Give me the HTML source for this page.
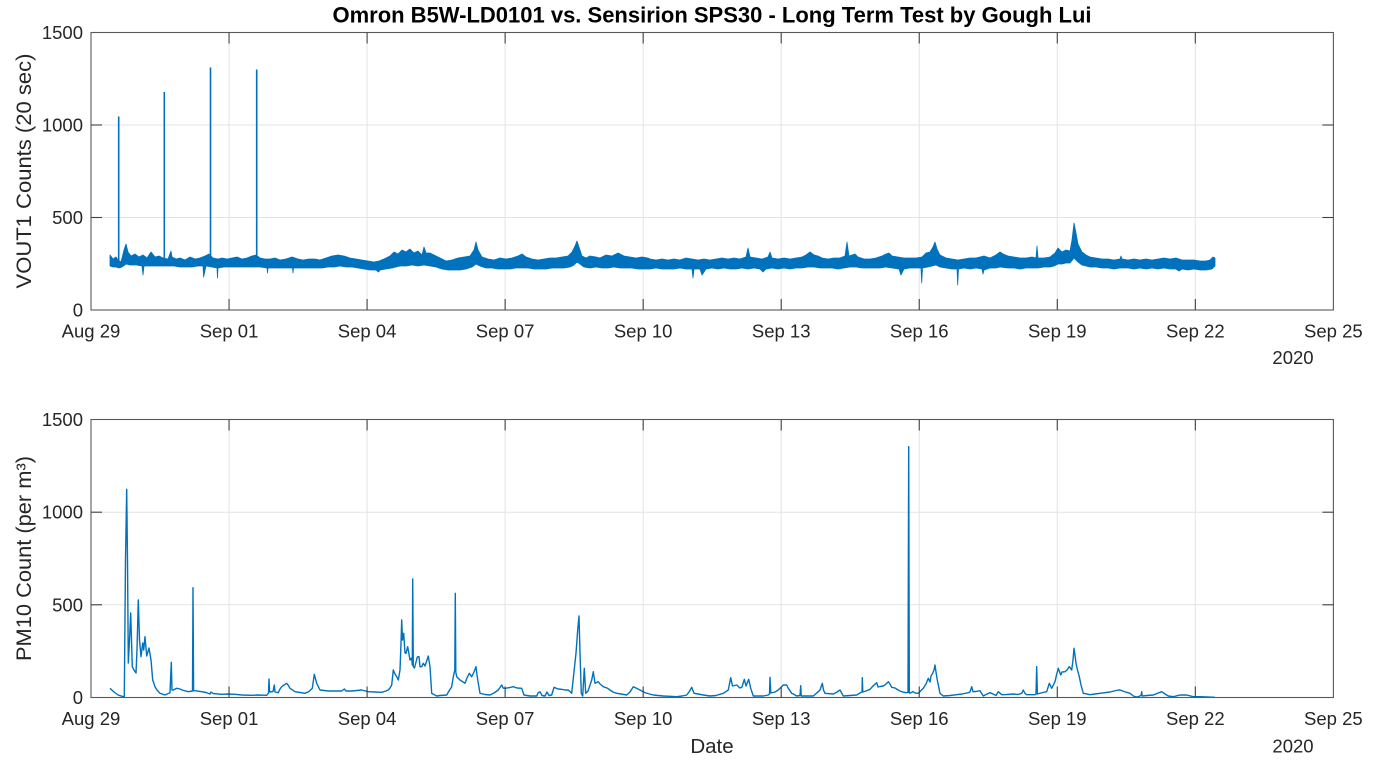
<!DOCTYPE html>
<html>
<head>
<meta charset="utf-8">
<style>
html,body{margin:0;padding:0;background:#fff;}
svg{display:block;}
text{font-family:"Liberation Sans",Arial,sans-serif;fill:#262626;}
</style>
</head>
<body>
<svg width="1377" height="771" viewBox="0 0 1377 771" xmlns="http://www.w3.org/2000/svg">
<rect x="0" y="0" width="1377" height="771" fill="#fff"/>

<!-- ============ TOP AXES ============ -->
<g>
  <rect x="91" y="32.5" width="1242.4" height="277.5" fill="#fff"/>
  <!-- grid -->
  <g stroke="#e3e3e3" stroke-width="1">
    <line x1="229.04" y1="32.5" x2="229.04" y2="310"/>
    <line x1="367.08" y1="32.5" x2="367.08" y2="310"/>
    <line x1="505.12" y1="32.5" x2="505.12" y2="310"/>
    <line x1="643.16" y1="32.5" x2="643.16" y2="310"/>
    <line x1="781.2" y1="32.5" x2="781.2" y2="310"/>
    <line x1="919.24" y1="32.5" x2="919.24" y2="310"/>
    <line x1="1057.28" y1="32.5" x2="1057.28" y2="310"/>
    <line x1="1195.32" y1="32.5" x2="1195.32" y2="310"/>
    <line x1="91" y1="217.5" x2="1333.4" y2="217.5"/>
    <line x1="91" y1="125" x2="1333.4" y2="125"/>
  </g>
  <!-- data band -->
  <path fill="#0072BD" stroke="#0072BD" stroke-width="0.8" stroke-linejoin="round" d="M110,255 L113,259 L116,257 L118,260 L121,262 L124,250 L126,244 L128,252 L131,256 L135,254 L139,257 L143,255 L147,258 L151,252 L155,257 L159,256 L163,258 L168,259 L171,251 L172,257 L176,259 L180,258 L185,260 L190,257 L195,259 L200,258 L205,256 L209,254 L213,258 L218,259 L222,258 L227,259 L232,258 L237,257 L242,259 L247,258 L252,256 L256,255 L260,258 L265,259 L270,259 L275,258 L280,260 L286,259 L292,257 L298,259 L303,260 L309,259 L315,259 L320,260 L326,258 L332,256 L338,255 L344,256 L350,258 L356,259 L362,260 L368,261 L374,262 L379,261 L384,259 L390,256 L394,252 L398,254 L402,250 L406,252 L410,249 L414,253 L418,251 L422,255 L424,247 L426,253 L430,253 L434,255 L440,258 L446,261 L452,260 L458,258 L464,257 L470,256 L474,250 L476,242 L478,250 L482,257 L488,259 L494,260 L500,258 L506,259 L512,258 L518,256 L522,254 L526,257 L532,259 L538,260 L544,259 L550,258 L556,258 L562,257 L568,256 L572,252 L575,246 L577,241 L579,247 L582,256 L586,258 L590,256 L596,257 L600,258 L606,255 L612,256 L618,253 L624,256 L630,257 L636,258 L642,257 L648,258 L650,259 L656,260 L662,259 L668,260 L674,259 L680,260 L686,258 L692,259 L698,260 L704,259 L710,260 L716,259 L722,258 L728,259 L734,258 L740,259 L746,257 L748,248 L750,257 L756,258 L762,259 L768,257 L770,252 L772,258 L778,259 L784,258 L790,259 L796,258 L802,257 L806,255 L810,252 L814,255 L818,256 L822,258 L828,259 L834,258 L840,258 L845,256 L847,242 L849,256 L852,255 L855,254 L858,257 L864,259 L870,259 L876,258 L882,256 L886,254 L889,253 L892,256 L898,257 L904,258 L910,258 L916,258 L922,257 L926,253 L930,252 L933,247 L935,242 L937,249 L940,255 L946,258 L952,259 L958,260 L964,259 L970,258 L976,258 L980,257 L984,256 L990,258 L996,255 L1000,252 L1003,254 L1008,256 L1014,257 L1020,258 L1026,258 L1032,257 L1036,258 L1037,246 L1038,258 L1044,258 L1050,257 L1055,253 L1058,248 L1062,252 L1066,250 L1070,251 L1072,240 L1074,223 L1076,233 L1078,244 L1082,252 L1086,255 L1090,257 L1096,258 L1102,259 L1108,259 L1114,260 L1120,259 L1121,256 L1122,259 L1128,260 L1134,259 L1140,260 L1146,259 L1152,260 L1158,259 L1164,258 L1170,259 L1176,258 L1182,260 L1188,260 L1194,260 L1200,261 L1206,261 L1210,260 L1213,257 L1215,258 L1215,266 L1212,269 L1206,270 L1200,270 L1194,269 L1188,270 L1182,269 L1179,271 L1176,269 L1170,269 L1164,268 L1158,269 L1152,268 L1146,269 L1140,268 L1134,269 L1128,268 L1120,268 L1114,269 L1108,268 L1102,268 L1096,267 L1090,267 L1086,266 L1082,265 L1078,262 L1074,258 L1070,263 L1066,263 L1062,264 L1058,264 L1054,266 L1050,267 L1044,267 L1038,268 L1032,268 L1026,268 L1020,269 L1014,268 L1008,268 L1000,267 L996,268 L990,268 L984,270 L983,274 L982,269 L976,268 L970,269 L964,268 L958.5,269 L957.7,285 L957,269 L952,269 L946,268 L940,267 L936,265 L932,266 L928,267 L922.5,268 L921.7,283 L921,268 L916,268 L910,268 L904,269 L901,275 L899,269 L892,268 L886,267 L880,268 L874,268 L868,268 L862,268 L856,267 L850,267 L844,268 L838,269 L832,268 L826,268 L820,268 L814,267 L808,267 L802,268 L796,268 L790,269 L784,268 L778,269 L772,268 L766,269 L763,272 L760,269 L754,268 L748,269 L742,268 L736,269 L730,269 L724,268 L718,269 L712,268 L706,269 L702,275 L700,269 L694,269 L693,278 L692,269 L686,269 L680,268 L674,269 L668,269 L662,269 L656,268 L650,269 L644,269 L638,269 L632,268 L626,268 L620,268 L614,267 L608,268 L602,268 L596,267 L590,268 L584,267 L580,264 L577,262 L574,265 L570,267 L564,268 L558,268 L552,268 L546,269 L540,269 L534,269 L528,268 L522,268 L516,268 L510,269 L504,269 L498,269 L492,268 L486,268 L480,266 L476,264 L472,267 L466,269 L460,270 L454,270 L448,270 L442,269 L436,267 L430,266 L424,265 L418,266 L412,265 L406,266 L400,266 L396,267 L392,268 L386,269 L380,270 L378.6,272 L376,270 L370,270 L364,269 L358,268 L352,267 L346,267 L340,266 L334,267 L328,267 L322,268 L316,268 L310,268 L304,268 L298,268 L293.5,268 L293,273 L292.5,268 L286,268 L280,268 L274,268 L268,268 L267.5,273 L267,268 L260,267 L254,267 L248,267 L242,267 L236,267 L230,267 L224,267 L218,268 L217.5,278 L217,268 L212,267 L206,266 L203.6,277 L203,266 L198,266 L192,267 L186,267 L180,267 L174,266 L168,266 L162,266 L156,266 L150,266 L144,266 L143,275 L142,266 L136,265 L130,265 L126,264 L122,267 L119,268 L116,267 L113,267 L110,266 Z"/>
  <!-- tall spikes -->
  <g stroke="#0072BD" stroke-width="1.6" fill="none">
    <line x1="118.7" y1="266" x2="118.7" y2="116.5"/>
    <line x1="164.3" y1="264" x2="164.3" y2="92"/>
    <line x1="210.5" y1="264" x2="210.5" y2="67.5"/>
    <line x1="256.7" y1="264" x2="256.7" y2="69.5"/>
  </g>
  <!-- box -->
  <rect x="91" y="32.5" width="1242.4" height="277.5" fill="none" stroke="#595959" stroke-width="1.1"/>
  <!-- ticks -->
  <g stroke="#404040" stroke-width="1.1">
    <line x1="229.04" y1="310" x2="229.04" y2="299"/><line x1="229.04" y1="32.5" x2="229.04" y2="43.5"/>
    <line x1="367.08" y1="310" x2="367.08" y2="299"/><line x1="367.08" y1="32.5" x2="367.08" y2="43.5"/>
    <line x1="505.12" y1="310" x2="505.12" y2="299"/><line x1="505.12" y1="32.5" x2="505.12" y2="43.5"/>
    <line x1="643.16" y1="310" x2="643.16" y2="299"/><line x1="643.16" y1="32.5" x2="643.16" y2="43.5"/>
    <line x1="781.2" y1="310" x2="781.2" y2="299"/><line x1="781.2" y1="32.5" x2="781.2" y2="43.5"/>
    <line x1="919.24" y1="310" x2="919.24" y2="299"/><line x1="919.24" y1="32.5" x2="919.24" y2="43.5"/>
    <line x1="1057.28" y1="310" x2="1057.28" y2="299"/><line x1="1057.28" y1="32.5" x2="1057.28" y2="43.5"/>
    <line x1="1195.32" y1="310" x2="1195.32" y2="299"/><line x1="1195.32" y1="32.5" x2="1195.32" y2="43.5"/>
    <line x1="91" y1="217.5" x2="102" y2="217.5"/><line x1="1333.4" y1="217.5" x2="1322.4" y2="217.5"/>
    <line x1="91" y1="125" x2="102" y2="125"/><line x1="1333.4" y1="125" x2="1322.4" y2="125"/>
  </g>
  <!-- y tick labels -->
  <g font-size="18.5" text-anchor="end">
    <text x="83" y="39">1500</text>
    <text x="83" y="131.5">1000</text>
    <text x="83" y="224">500</text>
    <text x="83" y="316.5">0</text>
  </g>
  <!-- x tick labels -->
  <g font-size="18.5" text-anchor="middle">
    <text x="91" y="337.5">Aug 29</text>
    <text x="229.04" y="337.5">Sep 01</text>
    <text x="367.08" y="337.5">Sep 04</text>
    <text x="505.12" y="337.5">Sep 07</text>
    <text x="643.16" y="337.5">Sep 10</text>
    <text x="781.2" y="337.5">Sep 13</text>
    <text x="919.24" y="337.5">Sep 16</text>
    <text x="1057.28" y="337.5">Sep 19</text>
    <text x="1195.32" y="337.5">Sep 22</text>
    <text x="1333.36" y="337.5">Sep 25</text>
    <text x="1293" y="364">2020</text>
  </g>
  <text transform="translate(31,171) rotate(-90)" font-size="21" text-anchor="middle" textLength="235" lengthAdjust="spacingAndGlyphs">VOUT1 Counts (20 sec)</text>
  <text x="712" y="22.7" font-size="22" font-weight="bold" text-anchor="middle" style="fill:#000">Omron B5W-LD0101 vs. Sensirion SPS30 - Long Term Test by Gough Lui</text>
</g>

<!-- ============ BOTTOM AXES ============ -->
<g>
  <g stroke="#e3e3e3" stroke-width="1">
    <line x1="229.04" y1="419.5" x2="229.04" y2="697.5"/>
    <line x1="367.08" y1="419.5" x2="367.08" y2="697.5"/>
    <line x1="505.12" y1="419.5" x2="505.12" y2="697.5"/>
    <line x1="643.16" y1="419.5" x2="643.16" y2="697.5"/>
    <line x1="781.2" y1="419.5" x2="781.2" y2="697.5"/>
    <line x1="919.24" y1="419.5" x2="919.24" y2="697.5"/>
    <line x1="1057.28" y1="419.5" x2="1057.28" y2="697.5"/>
    <line x1="1195.32" y1="419.5" x2="1195.32" y2="697.5"/>
    <line x1="91" y1="604.8" x2="1333.4" y2="604.8"/>
    <line x1="91" y1="512.2" x2="1333.4" y2="512.2"/>
  </g>
  <polyline fill="none" stroke="#0072BD" stroke-width="1.4" stroke-linejoin="round" points="110,688.3 114,692 118,695 123.3,696.7 124.3,696.5 125.5,560 126.7,489.3 127.5,560 128.3,663 129.5,640 130.7,613 131.5,640 132.3,666.7 134,670 136,673 137,650 138.3,600 139.5,640 141,656.7 142.7,643 143.7,650 145,636.7 146.7,656 149,648 151,660 152.7,680 155,686.7 157,690 160,693.3 165,695 170,692.7 171.3,662.3 172,690 173.3,690 176.7,688.3 180,689 182,690 188.3,691.7 192.5,691 193,587.7 193.6,690.7 195,690.7 201.7,691.7 206,692.5 210,694 211,692 213,693.5 221.7,694.3 228,694 235,694.3 242,695 251.7,695.3 258,695 266.7,695.3 268.5,693 269,679 269.6,692 271.7,691.7 273,691.5 274.3,685 275,692 278.3,692.7 280,689 281.7,686.7 284,685 286.7,683.3 288,685 290,688.3 295,691.7 300,692.5 305,693.3 309,691.5 312.3,688.3 314.3,674.3 316.7,683.3 320,690 328.3,691 335,691 341.7,691 344.3,689 346,691 352,691 361.7,690 368.3,691.7 375,692 381.7,692.3 386,691 388.3,690 390,688 391.7,685 393.3,670 395,674 396.7,676.7 398.3,680 400,670 401,643.3 401.7,620 402.5,640 403.7,633.3 405,653 406,653.3 407.7,646.7 408.3,650 410,660 411.7,658 412.3,665 412.7,579 413.3,666.7 414.5,668 417.3,657 419,656.7 420,666.7 421.7,666.7 423.3,663.3 425,666 428.3,656 430,666.7 431.7,693.3 436.7,696 440,695.5 446.7,695 449,691 451.7,686.7 453.3,676.7 454.8,670 455.3,593.3 455.8,672 456.7,676.7 460,680 465,683.3 467,678 469.3,673.3 471.7,676.7 474,672 476,666.7 477,675 478.3,683.3 480,693.3 485,694.5 490,695 494,693 498.3,690 501.7,685 503,688 505,688.3 510,687.5 513.3,686.7 517,688 521.7,688.3 524,695 530,696 536.7,696 538,693 540,691.7 542,695.5 545,696 547,692 549,695.5 551.7,695 554,687.3 558,689 561.7,689.3 565,690 568.3,690 571.7,693.3 574,671.7 576,653.3 577.7,630 579,616 580,653.3 581.3,693.3 582.7,696 584.3,668.3 585.7,693.3 588,691 591.7,680 593.3,671.7 595,683.3 598.3,681.7 600,684 603.3,686.7 607,688 610,690 613,692 616.7,693.3 621,694 626.7,695 630,692 633.3,686.7 636,688 640,690 643,691.7 646,693 653.3,695 658,695.5 663.3,696 670,696.3 676.7,696.7 682,696 686.7,695 689,692 691.7,687.3 694,693.3 698,694 703.3,695 710,696 716,695.5 723.3,693.3 728.3,690 730.7,677.7 732.5,686 736.7,685 740,688 742,687 744.3,679.3 746,686 748.7,679.3 750.7,688.3 753.3,696 758,696 763.3,696 768.3,695 769.5,694 770,677.3 770.8,693 775,692 778.3,690 783.3,685 786.7,685 788.3,688.3 791.7,693.3 793.3,694 796.7,696 800,695.5 800.7,685.7 801.3,696 807,696 813.3,696 818.3,691.7 820,690 822.3,683.3 823.5,690 825,693.3 833.3,694 837,692 840,690 843.3,696 850,695.5 856.7,695 860,693 862,692 862.3,677.7 862.8,692 866,691 870,689.3 873,686 876.7,682.7 878,687 880,686.5 883.3,686 886,684 888.3,681.7 890,684 891.7,687.3 895,688 898,690 901.7,691.7 906,692.7 908,692.5 908.7,446.7 909.3,692.5 910,693.3 913,691.5 915,693 918.3,693.3 923.3,688.3 926,684 928.3,678.3 930,682 931,676 932.7,673.3 934,670 935,665 936,672 937.3,680 940,693.3 943.3,696 950,695.5 956.7,694.7 962,694 968.3,692.7 970,692 971.7,686.7 973,691.7 976,691.5 980,690.7 983.3,696 986,694.5 990,692.7 993,694 996,695.5 998.3,691.7 1001.7,694.7 1007,694.5 1013.3,694 1018,694.5 1021.7,693.3 1023.3,690 1025,693.5 1026.7,694.7 1030,694.7 1035,694.7 1036,694 1036.7,666.7 1037.4,694 1041,693 1046.7,691.7 1049.3,683.3 1051.7,688.3 1055,681.7 1056.5,675 1058.3,668.3 1060.7,675 1062,672 1065,671.7 1067,670 1069.3,666.7 1071.7,670 1073,660 1074,648.3 1075,655 1076,663.3 1077.5,670 1079.3,676.7 1081,685 1083.3,693.3 1086,693.8 1090,694.7 1095,694 1100,693.3 1105,692.7 1110,692 1114,691 1118.3,690 1120,690 1124,691.5 1130,693.3 1133.3,696 1136.7,697 1140,696 1141.2,695 1141.7,691.7 1142.2,696 1147,695.5 1153.3,695 1157,693.5 1161.7,691.7 1165,694 1168.3,696 1173.3,696.7 1180,695 1186.7,695 1193.3,696.7 1200,696.7 1207,697 1215,697.3"/>
  <rect x="91" y="419.5" width="1242.4" height="278" fill="none" stroke="#595959" stroke-width="1.1"/>
  <g stroke="#404040" stroke-width="1.1">
    <line x1="229.04" y1="697.5" x2="229.04" y2="686.5"/><line x1="229.04" y1="419.5" x2="229.04" y2="430.5"/>
    <line x1="367.08" y1="697.5" x2="367.08" y2="686.5"/><line x1="367.08" y1="419.5" x2="367.08" y2="430.5"/>
    <line x1="505.12" y1="697.5" x2="505.12" y2="686.5"/><line x1="505.12" y1="419.5" x2="505.12" y2="430.5"/>
    <line x1="643.16" y1="697.5" x2="643.16" y2="686.5"/><line x1="643.16" y1="419.5" x2="643.16" y2="430.5"/>
    <line x1="781.2" y1="697.5" x2="781.2" y2="686.5"/><line x1="781.2" y1="419.5" x2="781.2" y2="430.5"/>
    <line x1="919.24" y1="697.5" x2="919.24" y2="686.5"/><line x1="919.24" y1="419.5" x2="919.24" y2="430.5"/>
    <line x1="1057.28" y1="697.5" x2="1057.28" y2="686.5"/><line x1="1057.28" y1="419.5" x2="1057.28" y2="430.5"/>
    <line x1="1195.32" y1="697.5" x2="1195.32" y2="686.5"/><line x1="1195.32" y1="419.5" x2="1195.32" y2="430.5"/>
    <line x1="91" y1="604.8" x2="102" y2="604.8"/><line x1="1333.4" y1="604.8" x2="1322.4" y2="604.8"/>
    <line x1="91" y1="512.2" x2="102" y2="512.2"/><line x1="1333.4" y1="512.2" x2="1322.4" y2="512.2"/>
  </g>
  <g font-size="18.5" text-anchor="end">
    <text x="83" y="426">1500</text>
    <text x="83" y="518.7">1000</text>
    <text x="83" y="611.3">500</text>
    <text x="83" y="704">0</text>
  </g>
  <g font-size="18.5" text-anchor="middle">
    <text x="91" y="725">Aug 29</text>
    <text x="229.04" y="725">Sep 01</text>
    <text x="367.08" y="725">Sep 04</text>
    <text x="505.12" y="725">Sep 07</text>
    <text x="643.16" y="725">Sep 10</text>
    <text x="781.2" y="725">Sep 13</text>
    <text x="919.24" y="725">Sep 16</text>
    <text x="1057.28" y="725">Sep 19</text>
    <text x="1195.32" y="725">Sep 22</text>
    <text x="1333.36" y="725">Sep 25</text>
    <text x="1293" y="752.5">2020</text>
  </g>
  <text x="712" y="753" font-size="20.5" text-anchor="middle">Date</text>
  <text transform="translate(31,558.5) rotate(-90)" font-size="21" text-anchor="middle" textLength="205" lengthAdjust="spacingAndGlyphs">PM10 Count (per m³)</text>
</g>
</svg>
</body>
</html>
